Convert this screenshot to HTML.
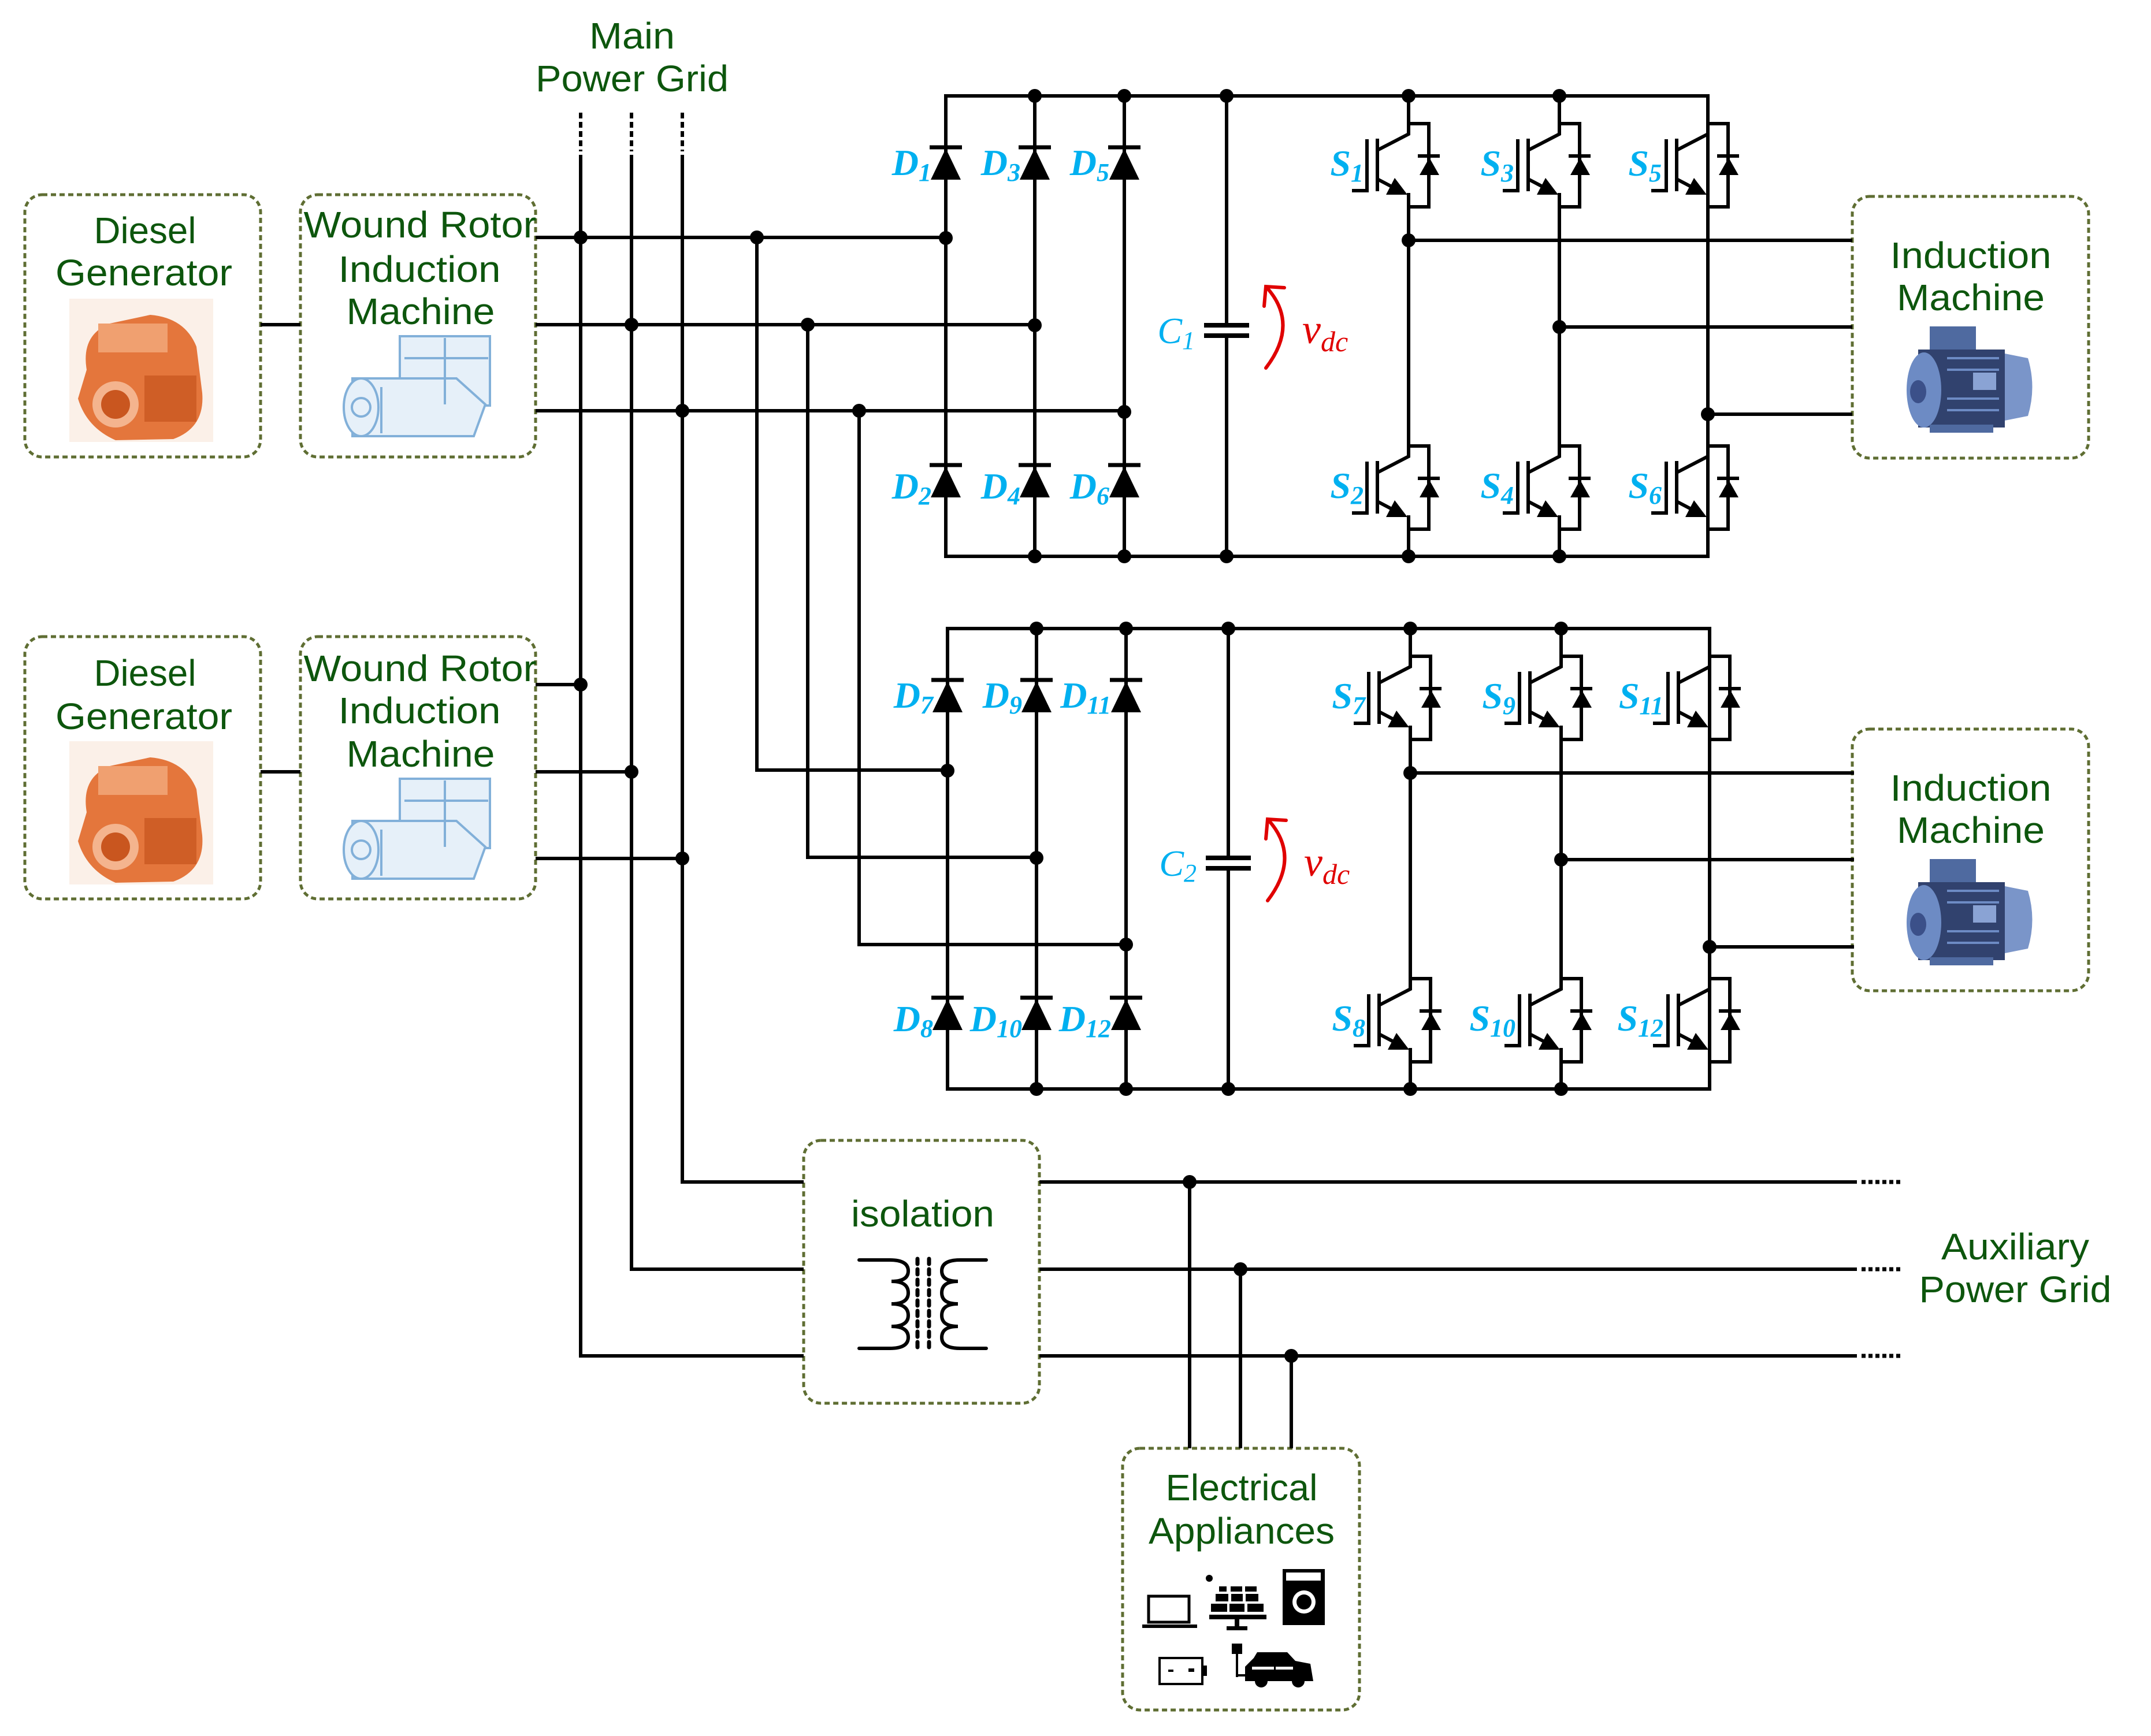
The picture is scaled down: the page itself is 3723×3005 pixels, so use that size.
<!DOCTYPE html>
<html><head><meta charset="utf-8"><style>
html,body{margin:0;padding:0;background:#fff;}
svg{display:block;}
.g{font-family:"Liberation Sans",sans-serif;fill:#0d560d;font-size:64px;}
.b{font-family:"Liberation Serif",serif;fill:#00b0f0;font-style:italic;font-weight:bold;font-size:64px;}
.sub{font-size:44px;}
.r{font-family:"Liberation Serif",serif;fill:#e00000;font-style:italic;font-size:72px;}
.rs{font-size:50px;}
</style></head><body>
<svg width="3723" height="3005" viewBox="0 0 3723 3005" xmlns="http://www.w3.org/2000/svg">
<defs>
<g id="igbt" stroke="#000" stroke-width="6" fill="none">
  <path d="M0,0 V18 L-54,46"/>
  <path d="M-54,26 V117"/>
  <path d="M-72,27 V116 H-98"/>
  <path d="M-54,96 L-14,117"/>
  <path d="M0,120 V144 H35 V0 H0"/>
  <path d="M16,56 H54"/>
  <polygon points="-39,123 -2,123 -24,94" fill="#000" stroke="none"/>
  <polygon points="19,89 53,89 36,59" fill="#000" stroke="none"/>
</g>
<g id="dio">
  <path d="M-28,0 H28" stroke="#000" stroke-width="7"/>
  <polygon points="-26,56 26,56 0,2" fill="#000"/>
</g>
<g id="rect">
  <g stroke="#000" stroke-width="6" fill="none">
    <path d="M1637,166 H2956 V963 H1637 Z"/>
    <path d="M1791,166 V963 M1946,166 V963"/>
    <path d="M2123,166 V563 M2123,581 V963"/>
    <path d="M2084,563 H2162 M2084,581 H2162" stroke-width="8"/>
    <path d="M2438,166 V232 M2438,334 V790 M2438,892 V963"/>
    <path d="M2699,166 V232 M2699,334 V790 M2699,892 V963"/>
    <path d="M2956,166 V232 M2956,334 V790 M2956,892 V963"/>
    <path d="M2438,416 H3206 M2699,566 H3206 M2956,717 H3206"/>
    <path d="M2191,637 Q2250,560 2191,496 M2188,530 L2191,496 L2223,498" stroke="#e00000" stroke-width="6" stroke-linecap="round"/>
  </g>
  <use href="#dio" x="1637" y="255"/><use href="#dio" x="1791" y="255"/><use href="#dio" x="1946" y="255"/>
  <use href="#dio" x="1637" y="805"/><use href="#dio" x="1791" y="805"/><use href="#dio" x="1946" y="805"/>
  <use href="#igbt" x="2438" y="214"/><use href="#igbt" x="2699" y="214"/><use href="#igbt" x="2956" y="214"/>
  <use href="#igbt" x="2438" y="772"/><use href="#igbt" x="2699" y="772"/><use href="#igbt" x="2956" y="772"/>
  <g fill="#000">
    <circle cx="1791" cy="166" r="12"/><circle cx="1946" cy="166" r="12"/><circle cx="2123" cy="166" r="12"/><circle cx="2438" cy="166" r="12"/><circle cx="2699" cy="166" r="12"/>
    <circle cx="1791" cy="963" r="12"/><circle cx="1946" cy="963" r="12"/><circle cx="2123" cy="963" r="12"/><circle cx="2438" cy="963" r="12"/><circle cx="2699" cy="963" r="12"/>
    <circle cx="1637" cy="412" r="12"/><circle cx="1791" cy="563" r="12"/><circle cx="1946" cy="713" r="12"/>
    <circle cx="2438" cy="416" r="12"/><circle cx="2699" cy="566" r="12"/><circle cx="2956" cy="717" r="12"/>
  </g>
</g>
<g id="engine">
  <rect x="120" y="517" width="249" height="248" fill="#fbf0e8"/>
  <path d="M150,640 Q140,580 190,560 L260,545 Q320,550 340,600 L350,680 Q355,740 300,760 L200,762 Q150,740 135,690 Z" fill="#e4763c"/>
  <circle cx="200" cy="700" r="40" fill="#f4b48e"/><circle cx="200" cy="700" r="25" fill="#c9561f"/>
  <rect x="170" y="560" width="120" height="50" fill="#f0a070"/>
  <rect x="250" y="650" width="90" height="80" fill="#cf5e26"/>
</g>
<g id="gen" fill="#e6f0f9" stroke="#82b0d9" stroke-width="4">
  <rect x="692" y="582" width="156" height="120"/>
  <path d="M610,655 L790,655 L840,700 L820,755 L610,755 Z"/>
  <ellipse cx="625" cy="705" rx="30" ry="50"/>
  <circle cx="625" cy="705" r="16"/>
  <path d="M700,620 H845 M770,585 V700 M660,670 V750"/>
</g>
<g id="motor">
  <rect x="3340" y="565" width="80" height="45" fill="#4f6aa0"/>
  <path d="M3320,605 L3470,605 L3470,740 L3320,740 Z" fill="#31426e"/>
  <ellipse cx="3330" cy="675" rx="30" ry="65" fill="#6d8bc4"/>
  <ellipse cx="3320" cy="678" rx="14" ry="20" fill="#3b5089"/>
  <path d="M3470,612 L3510,620 Q3525,670 3510,720 L3470,728 Z" fill="#7a95c9"/>
  <rect x="3415" y="645" width="40" height="30" fill="#8aa3d4"/>
  <rect x="3340" y="735" width="110" height="14" fill="#4f6aa0"/>
  <g stroke="#6d8bc4" stroke-width="4"><path d="M3370,620 H3460 M3370,640 H3460 M3370,690 H3460 M3370,710 H3460"/></g>
</g>
</defs>

<g fill="none" stroke="#5f6e33" stroke-width="5" stroke-dasharray="9 6">
  <rect x="43" y="337" width="408" height="454" rx="30"/>
  <rect x="520" y="337" width="407" height="454" rx="30"/>
  <rect x="43" y="1102" width="408" height="454" rx="30"/>
  <rect x="520" y="1102" width="407" height="454" rx="30"/>
  <rect x="3206" y="340" width="409" height="453" rx="30"/>
  <rect x="3206" y="1262" width="409" height="453" rx="30"/>
  <rect x="1391" y="1974" width="408" height="455" rx="30"/>
  <rect x="1943" y="2507" width="410" height="453" rx="30"/>
</g>

<g stroke="#000" stroke-width="6" fill="none">
  <path d="M1005,195 V262 M1093,195 V262 M1181,195 V262" stroke-dasharray="10 6"/>
  <path d="M1005,268 V2347 H1391"/>
  <path d="M1093,268 V2197 H1391"/>
  <path d="M1181,268 V2046 H1391"/>
  <path d="M451,562 H520 M451,1336 H520"/>
  <path d="M927,411 H1637 M927,562 H1791 M927,711 H1946"/>
  <path d="M1310,411 V1333 H1640 M1398,562 V1484 H1794 M1487,711 V1635 H1949"/>
  <path d="M927,1185 H1005 M927,1336 H1093 M927,1486 H1181"/>
  <path d="M1799,2046 H3214 M1799,2197 H3214 M1799,2347 H3214"/>
  <path d="M3222,2046 H3292 M3222,2197 H3292 M3222,2347 H3292" stroke-dasharray="7 5" stroke-width="7"/>
  <path d="M2059,2046 V2507 M2147,2197 V2507 M2235,2347 V2507"/>
  <path d="M1487,2181 H1540 Q1572,2181 1572,2200 Q1572,2218 1543,2218 Q1572,2218 1572,2238 Q1572,2257 1543,2257 Q1572,2257 1572,2277 Q1572,2296 1543,2296 Q1572,2296 1572,2315 Q1572,2334 1540,2334 H1487" stroke-linecap="round"/>
  <path d="M1707,2181 H1662 Q1630,2181 1630,2200 Q1630,2218 1658,2218 Q1630,2218 1630,2238 Q1630,2257 1658,2257 Q1630,2257 1630,2277 Q1630,2296 1658,2296 Q1630,2296 1630,2315 Q1630,2334 1662,2334 H1707" stroke-linecap="round"/>
  <path d="M1588,2179 V2336 M1608,2179 V2336" stroke-dasharray="9 9" stroke-width="7" stroke-linecap="round"/>
</g>
<g fill="#000">
  <circle cx="1005" cy="411" r="12"/><circle cx="1093" cy="562" r="12"/><circle cx="1181" cy="711" r="12"/>
  <circle cx="1310" cy="411" r="12"/><circle cx="1398" cy="562" r="12"/><circle cx="1487" cy="711" r="12"/>
  <circle cx="1005" cy="1185" r="12"/><circle cx="1093" cy="1336" r="12"/><circle cx="1181" cy="1486" r="12"/>
  <circle cx="2059" cy="2046" r="12"/><circle cx="2147" cy="2197" r="12"/><circle cx="2235" cy="2347" r="12"/>
</g>

<use href="#rect"/>
<use href="#rect" x="3" y="922"/>

<use href="#engine"/><use href="#engine" y="766"/>
<use href="#gen"/><use href="#gen" y="766"/>
<use href="#motor"/><use href="#motor" y="922"/>

<g fill="#000">
  <rect x="1988" y="2763" width="70" height="45" fill="none" stroke="#000" stroke-width="5"/>
  <rect x="1977" y="2812" width="95" height="6"/>
  <rect x="2110" y="2746" width="13" height="9"/><rect x="2130" y="2746" width="20" height="9"/><rect x="2155" y="2746" width="20" height="9"/>
  <rect x="2104" y="2759" width="22" height="13"/><rect x="2131" y="2759" width="20" height="13"/><rect x="2156" y="2759" width="22" height="13"/>
  <rect x="2096" y="2776" width="28" height="14"/><rect x="2128" y="2776" width="26" height="14"/><rect x="2159" y="2776" width="28" height="14"/>
  <rect x="2093" y="2795" width="99" height="8"/><rect x="2137" y="2803" width="8" height="12"/><rect x="2123" y="2815" width="36" height="7"/>
  <circle cx="2093" cy="2732" r="6"/>
  <rect x="2220" y="2716" width="73" height="97"/>
  <rect x="2226" y="2722" width="60" height="14" fill="#fff"/>
  <circle cx="2257" cy="2773" r="20" fill="#fff"/><circle cx="2257" cy="2773" r="13"/>
  <rect x="2007" y="2870" width="74" height="45" fill="none" stroke="#000" stroke-width="4"/>
  <rect x="2081" y="2883" width="8" height="18"/><rect x="2022" y="2890" width="9" height="4"/><rect x="2057" y="2888" width="10" height="6"/>
  <rect x="2132" y="2845" width="18" height="18"/><rect x="2139" y="2863" width="4" height="40"/><rect x="2139" y="2898" width="20" height="4"/>
  <path d="M2155,2910 V2885 L2170,2870 L2176,2860 H2228 L2242,2875 L2268,2880 L2273,2910 Z"/>
  <rect x="2167" y="2885" width="38" height="5" fill="#fff"/><rect x="2208" y="2885" width="30" height="5" fill="#fff"/>
  <circle cx="2183" cy="2910" r="11"/><circle cx="2247" cy="2910" r="11"/>
</g>

<g class="g" text-anchor="middle">
  <text x="1094" y="84" textLength="148" lengthAdjust="spacingAndGlyphs">Main</text>
  <text x="1094" y="158" textLength="334" lengthAdjust="spacingAndGlyphs">Power Grid</text>
  <text x="251" y="421" textLength="177" lengthAdjust="spacingAndGlyphs">Diesel</text>
  <text x="249" y="494" textLength="306" lengthAdjust="spacingAndGlyphs">Generator</text>
  <text x="727" y="411" textLength="403" lengthAdjust="spacingAndGlyphs">Wound Rotor</text>
  <text x="726" y="488" textLength="281" lengthAdjust="spacingAndGlyphs">Induction</text>
  <text x="728" y="561" textLength="257" lengthAdjust="spacingAndGlyphs">Machine</text>
  <text x="251" y="1187" textLength="177" lengthAdjust="spacingAndGlyphs">Diesel</text>
  <text x="249" y="1262" textLength="306" lengthAdjust="spacingAndGlyphs">Generator</text>
  <text x="727" y="1179" textLength="403" lengthAdjust="spacingAndGlyphs">Wound Rotor</text>
  <text x="726" y="1252" textLength="281" lengthAdjust="spacingAndGlyphs">Induction</text>
  <text x="728" y="1327" textLength="257" lengthAdjust="spacingAndGlyphs">Machine</text>
  <text x="3411" y="464" textLength="279" lengthAdjust="spacingAndGlyphs">Induction</text>
  <text x="3411" y="537" textLength="256" lengthAdjust="spacingAndGlyphs">Machine</text>
  <text x="3411" y="1386" textLength="279" lengthAdjust="spacingAndGlyphs">Induction</text>
  <text x="3411" y="1459" textLength="256" lengthAdjust="spacingAndGlyphs">Machine</text>
  <text x="1597" y="2123" textLength="248" lengthAdjust="spacingAndGlyphs">isolation</text>
  <text x="2149" y="2597" textLength="263" lengthAdjust="spacingAndGlyphs">Electrical</text>
  <text x="2149" y="2672" textLength="322" lengthAdjust="spacingAndGlyphs">Appliances</text>
  <text x="3488" y="2180" textLength="256" lengthAdjust="spacingAndGlyphs">Auxiliary</text>
  <text x="3488" y="2254" textLength="333" lengthAdjust="spacingAndGlyphs">Power Grid</text>
</g>

<g class="b" text-anchor="end">
  <text x="1612" y="303">D<tspan class="sub" dy="10">1</tspan></text>
  <text x="1766" y="303">D<tspan class="sub" dy="10">3</tspan></text>
  <text x="1920" y="303">D<tspan class="sub" dy="10">5</tspan></text>
  <text x="1612" y="863">D<tspan class="sub" dy="10">2</tspan></text>
  <text x="1766" y="863">D<tspan class="sub" dy="10">4</tspan></text>
  <text x="1920" y="863">D<tspan class="sub" dy="10">6</tspan></text>
  <text x="1615" y="1225">D<tspan class="sub" dy="10">7</tspan></text>
  <text x="1769" y="1225">D<tspan class="sub" dy="10">9</tspan></text>
  <text x="1923" y="1225">D<tspan class="sub" dy="10">11</tspan></text>
  <text x="1615" y="1785">D<tspan class="sub" dy="10">8</tspan></text>
  <text x="1769" y="1785">D<tspan class="sub" dy="10">10</tspan></text>
  <text x="1923" y="1785">D<tspan class="sub" dy="10">12</tspan></text>
  <text x="2360" y="304">S<tspan class="sub" dy="10">1</tspan></text>
  <text x="2620" y="304">S<tspan class="sub" dy="10">3</tspan></text>
  <text x="2876" y="304">S<tspan class="sub" dy="10">5</tspan></text>
  <text x="2360" y="862">S<tspan class="sub" dy="10">2</tspan></text>
  <text x="2620" y="862">S<tspan class="sub" dy="10">4</tspan></text>
  <text x="2876" y="862">S<tspan class="sub" dy="10">6</tspan></text>
  <text x="2363" y="1226">S<tspan class="sub" dy="10">7</tspan></text>
  <text x="2623" y="1226">S<tspan class="sub" dy="10">9</tspan></text>
  <text x="2879" y="1226">S<tspan class="sub" dy="10">11</tspan></text>
  <text x="2363" y="1784">S<tspan class="sub" dy="10">8</tspan></text>
  <text x="2623" y="1784">S<tspan class="sub" dy="10">10</tspan></text>
  <text x="2879" y="1784">S<tspan class="sub" dy="10">12</tspan></text>
</g>
<g class="b" style="font-weight:normal" text-anchor="end">
  <text x="2068" y="594">C<tspan class="sub" dy="10">1</tspan></text>
  <text x="2071" y="1516">C<tspan class="sub" dy="10">2</tspan></text>
</g>
<text class="r" x="2254" y="594">v<tspan class="rs" dy="14">dc</tspan></text>
<text class="r" x="2257" y="1516">v<tspan class="rs" dy="14">dc</tspan></text>
</svg>
</body></html>
